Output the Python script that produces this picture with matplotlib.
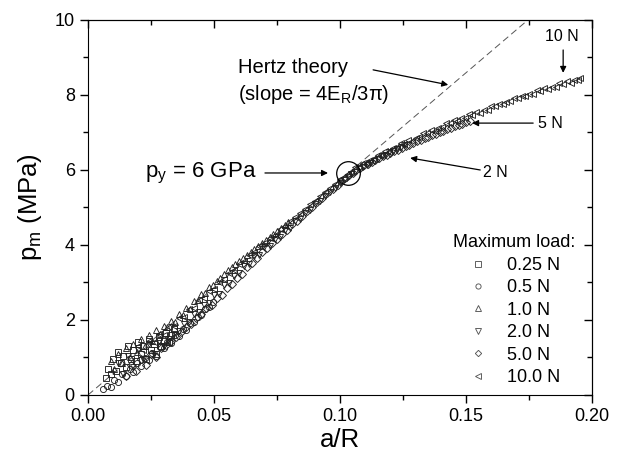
import matplotlib
matplotlib.use('Agg')
import matplotlib.pyplot as plt

plt.rcParams['font.family'] = ['Liberation Sans', 'DejaVu Sans']
plt.rcParams['mathtext.fontset'] = 'custom'
plt.rcParams['mathtext.rm'] = 'Liberation Sans'
plt.rcParams['mathtext.it'] = 'Liberation Sans:italic'

# datos: a/R y p_m (MPa) para cada carga maxima
x_025 = [0.007, 0.008, 0.009, 0.010, 0.011, 0.012, 0.013, 0.014, 0.015, 0.016, 0.017, 0.018, 0.019, 0.020,
         0.021, 0.022, 0.023, 0.024, 0.025, 0.026, 0.027, 0.028, 0.029, 0.030, 0.031, 0.032, 0.033, 0.034]
y_025 = [0.45, 0.70, 0.55, 0.95, 0.65, 1.15, 0.85, 1.05, 0.75, 1.30, 0.95, 1.20, 0.90, 1.40,
         1.10, 1.30, 0.95, 1.50, 1.20, 1.35, 1.10, 1.55, 1.30, 1.45, 1.65, 1.40, 1.60, 1.75]

x_05 = [0.006, 0.0075, 0.009, 0.0105, 0.012, 0.0135, 0.015, 0.0165, 0.018, 0.0195,
        0.021, 0.0225, 0.024, 0.0255, 0.027, 0.0285, 0.030, 0.0315, 0.033, 0.0345,
        0.036, 0.0375, 0.039, 0.0405, 0.042, 0.0435, 0.045, 0.0465, 0.048, 0.0495]
y_05 = [0.15, 0.25, 0.22, 0.40, 0.35, 0.55, 0.50, 0.68, 0.62, 0.85,
        0.78, 0.98, 0.92, 1.12, 1.05, 1.28, 1.25, 1.42, 1.38, 1.60,
        1.58, 1.75, 1.72, 1.92, 1.95, 2.08, 2.12, 2.28, 2.35, 2.48]

x_1 = [0.009, 0.0105, 0.012, 0.0135, 0.015, 0.0165, 0.018, 0.0195, 0.021, 0.0225, 0.024, 0.0255,
       0.027, 0.0285, 0.030, 0.0315, 0.033, 0.0345, 0.036, 0.0375, 0.039, 0.0405, 0.042, 0.0435,
       0.045, 0.0465, 0.048, 0.0495, 0.051, 0.0525, 0.054, 0.0555, 0.057, 0.0585, 0.060, 0.0615,
       0.063, 0.0645, 0.066, 0.0675, 0.069, 0.0705, 0.072, 0.0735, 0.075, 0.0765, 0.078, 0.0795]
y_1 = [0.90, 0.70, 1.10, 0.85, 1.25, 1.00, 1.35, 1.15, 1.50, 1.30, 1.60, 1.45,
       1.72, 1.62, 1.85, 1.80, 1.98, 1.95, 2.15, 2.12, 2.32, 2.30, 2.50, 2.52,
       2.68, 2.72, 2.88, 2.92, 3.05, 3.12, 3.22, 3.32, 3.40, 3.50, 3.58, 3.66,
       3.72, 3.82, 3.88, 3.98, 4.05, 4.14, 4.20, 4.30, 4.36, 4.46, 4.52, 4.62]

x_2 = [0.012, 0.014, 0.016, 0.018, 0.020, 0.022, 0.024, 0.026, 0.028, 0.030, 0.032,
       0.034, 0.036, 0.038, 0.040, 0.042, 0.044, 0.046, 0.048, 0.050, 0.052, 0.054,
       0.056, 0.058, 0.060, 0.062, 0.064, 0.066, 0.068, 0.070, 0.072, 0.074, 0.076,
       0.078, 0.080, 0.082, 0.084, 0.086, 0.088, 0.090, 0.092, 0.094, 0.096, 0.098,
       0.100, 0.1015, 0.103, 0.1045, 0.106, 0.1075, 0.109, 0.1105, 0.112, 0.1135,
       0.115, 0.1165, 0.118, 0.1195, 0.121, 0.1225, 0.124, 0.1255]
y_2 = [0.85, 0.55, 1.05, 0.75, 1.20, 0.95, 1.35, 1.10, 1.45, 1.30, 1.50,
       1.62, 1.70, 1.90, 1.95, 2.15, 2.22, 2.40, 2.45, 2.66, 2.70, 2.92,
       2.98, 3.18, 3.24, 3.45, 3.50, 3.70, 3.74, 3.94, 3.98, 4.16, 4.22,
       4.40, 4.46, 4.64, 4.70, 4.86, 4.94, 5.08, 5.18, 5.30, 5.40, 5.52,
       5.64, 5.72, 5.80, 5.88, 5.94, 6.02, 6.07, 6.14, 6.19, 6.25,
       6.30, 6.36, 6.41, 6.47, 6.51, 6.57, 6.61, 6.66]

x_5 = [0.015, 0.017, 0.019, 0.021, 0.023, 0.025, 0.027, 0.029, 0.031, 0.033, 0.035,
       0.037, 0.039, 0.041, 0.043, 0.045, 0.047, 0.049, 0.051, 0.053, 0.055, 0.057,
       0.059, 0.061, 0.063, 0.065, 0.067, 0.069, 0.071, 0.073, 0.075, 0.077, 0.079,
       0.081, 0.083, 0.085, 0.087, 0.089, 0.091, 0.093, 0.095, 0.097, 0.099,
       0.1005, 0.102, 0.1035, 0.105, 0.1065, 0.108, 0.1095, 0.111, 0.1125, 0.114,
       0.1155, 0.117, 0.1185, 0.120, 0.1215, 0.123, 0.1245, 0.126, 0.1275, 0.129,
       0.1305, 0.132, 0.1335, 0.135, 0.1365, 0.138, 0.1395, 0.141, 0.1425, 0.144,
       0.1455, 0.147, 0.1485, 0.150, 0.1515]
y_5 = [0.50, 0.80, 0.65, 0.95, 0.80, 1.10, 1.02, 1.25, 1.32, 1.45, 1.55,
       1.68, 1.80, 1.90, 2.05, 2.15, 2.32, 2.40, 2.58, 2.66, 2.85, 2.95,
       3.12, 3.22, 3.40, 3.52, 3.66, 3.80, 3.92, 4.05, 4.16, 4.30, 4.40,
       4.55, 4.64, 4.78, 4.90, 5.02, 5.14, 5.26, 5.38, 5.48, 5.60,
       5.70, 5.78, 5.86, 5.93, 6.00, 6.05, 6.12, 6.16, 6.22, 6.27,
       6.31, 6.36, 6.40, 6.45, 6.50, 6.54, 6.58, 6.63, 6.67, 6.72,
       6.76, 6.80, 6.84, 6.88, 6.92, 6.96, 7.00, 7.04, 7.08, 7.12,
       7.16, 7.19, 7.23, 7.27, 7.30]

x_10 = [0.020, 0.022, 0.024, 0.026, 0.028, 0.030, 0.032, 0.034, 0.036, 0.038,
        0.040, 0.042, 0.044, 0.046, 0.048, 0.050, 0.052, 0.054, 0.056, 0.058,
        0.060, 0.062, 0.064, 0.066, 0.068, 0.070, 0.072, 0.074, 0.076, 0.078,
        0.080, 0.082, 0.084, 0.086, 0.088, 0.090, 0.092, 0.094, 0.096, 0.098,
        0.1000, 0.1015, 0.1030, 0.1045, 0.1060, 0.1075, 0.1090, 0.1105, 0.1120, 0.1135,
        0.1150, 0.1165, 0.1180, 0.1195, 0.1210, 0.1225, 0.1240, 0.1255, 0.1270, 0.1285,
        0.1300, 0.1315, 0.1330, 0.1345, 0.1360, 0.1375, 0.1390, 0.1405, 0.1420, 0.1435,
        0.1450, 0.1465, 0.1480, 0.1495, 0.1510, 0.1525, 0.1540, 0.1555, 0.1570, 0.1585,
        0.1600, 0.1615, 0.1630, 0.1645, 0.1660, 0.1675, 0.1690, 0.1705, 0.1720, 0.1735,
        0.1750, 0.1765, 0.1780, 0.1795, 0.1810, 0.1825, 0.1840, 0.1855, 0.1870, 0.1885,
        0.1900, 0.1915, 0.1930, 0.1945, 0.1950]
y_10 = [1.30, 1.20, 1.45, 1.40, 1.62, 1.60, 1.82, 1.85, 2.05, 2.08,
        2.28, 2.32, 2.52, 2.58, 2.78, 2.82, 3.00, 3.08, 3.25, 3.32,
        3.50, 3.56, 3.74, 3.80, 3.96, 4.04, 4.18, 4.26, 4.42, 4.50,
        4.64, 4.74, 4.86, 4.96, 5.08, 5.18, 5.30, 5.40, 5.52, 5.62,
        5.77, 5.79, 5.90, 5.94, 6.07, 6.08, 6.18, 6.18, 6.27, 6.29,
        6.41, 6.41, 6.50, 6.49, 6.58, 6.60, 6.71, 6.70, 6.79, 6.78,
        6.86, 6.88, 6.98, 6.98, 7.06, 7.05, 7.13, 7.14, 7.25, 7.24,
        7.32, 7.30, 7.38, 7.39, 7.49, 7.47, 7.55, 7.53, 7.61, 7.61,
        7.71, 7.70, 7.77, 7.75, 7.82, 7.83, 7.92, 7.91, 7.98, 7.96,
        8.03, 8.03, 8.13, 8.11, 8.18, 8.15, 8.22, 8.22, 8.31, 8.29,
        8.36, 8.33, 8.40, 8.40, 8.44]

series = [(x_025, y_025, 's', '0.25 N'), (x_05, y_05, 'o', '0.5 N'),
          (x_1, y_1, '^', '1.0 N'), (x_2, y_2, 'v', '2.0 N'),
          (x_5, y_5, 'D', '5.0 N'), (x_10, y_10, '<', '10.0 N')]

hertz_slope = 57.3  # pendiente teorica 4E_R/3pi

fig = plt.figure(figsize=(6.22, 4.54), dpi=100)
ax = fig.add_axes([0.1415, 0.13, 0.8105, 0.826])

ax.plot([0, 0.2], [0, hertz_slope * 0.2], color='#555555', lw=0.7, dashes=(7, 4))

for xs, ys, m, lab in series:
    ms = 3.8 if m == 'D' else 4.4
    ax.plot(xs, ys, m, ms=ms, mfc='none', mec='#222222', mew=0.65, label=lab)

ax.set_xlim(0, 0.2)
ax.set_ylim(0, 10)
ax.set_xticks([0, 0.05, 0.1, 0.15, 0.2])
ax.set_xticklabels(['0.00', '0.05', '0.10', '0.15', '0.20'])
ax.set_xticks([0.025, 0.075, 0.125, 0.175], minor=True)
ax.set_yticks([0, 2, 4, 6, 8, 10])
ax.set_yticks([1, 3, 5, 7, 9], minor=True)
ax.tick_params(which='both', labelsize=13, width=1)
ax.tick_params(which='major', length=6)
ax.tick_params(which='minor', length=3.5)
# ticks espejo hacia dentro arriba y a la derecha
top = ax.secondary_xaxis('top')
top.set_xticks([0, 0.05, 0.1, 0.15, 0.2])
top.set_xticks([0.025, 0.075, 0.125, 0.175], minor=True)
top.tick_params(which='both', direction='in', labeltop=False, width=1)
top.tick_params(which='major', length=6)
top.tick_params(which='minor', length=3.5)
right = ax.secondary_yaxis('right')
right.set_yticks([0, 2, 4, 6, 8, 10])
right.set_yticks([1, 3, 5, 7, 9], minor=True)
right.tick_params(which='both', direction='in', labelright=False, width=1)
right.tick_params(which='major', length=6)
right.tick_params(which='minor', length=3.5)

ax.set_xlabel('a/R', fontsize=18.5, labelpad=2)
ax.set_ylabel(r'p$_\mathrm{m}$ (MPa)', fontsize=18.5, labelpad=8)

flecha = dict(arrowstyle='-|>', color='k', lw=0.9, mutation_scale=9, shrinkA=0, shrinkB=0)
ax.text(0.0595, 8.72, 'Hertz theory', fontsize=14.5, va='center')
ax.text(0.0595, 8.0, r'(slope = 4E$_\mathrm{R}$/3π)', fontsize=14.5, va='center')
ax.annotate('', xy=(0.1429, 8.27), xytext=(0.1131, 8.67), arrowprops=flecha)

ax.text(0.0226, 5.92, r'p$_\mathrm{y}$ = 6 GPa', fontsize=16, va='center')
ax.annotate('', xy=(0.0952, 5.92), xytext=(0.0702, 5.92), arrowprops=flecha)
ax.plot([0.1032], [5.92], 'o', ms=17, mfc='none', mec='k', mew=0.9)

ax.text(0.1567, 5.92, '2 N', fontsize=11.5, va='center')
ax.annotate('', xy=(0.1278, 6.32), xytext=(0.1556, 6.0), arrowprops=flecha)
ax.text(0.1786, 7.25, '5 N', fontsize=11.5, va='center')
ax.annotate('', xy=(0.1524, 7.25), xytext=(0.1766, 7.25), arrowprops=flecha)
ax.text(0.1813, 9.55, '10 N', fontsize=11.5, va='center')
ax.annotate('', xy=(0.1885, 8.59), xytext=(0.1885, 9.2), arrowprops=flecha)

leg = ax.legend(title='Maximum load:', loc='lower right', bbox_to_anchor=(0.984, 0.0),
                frameon=False, fontsize=13, title_fontsize=13, markerscale=0.85,
                handletextpad=1.0, labelspacing=0.3, borderpad=0, handlelength=1.2)
for h in leg.legend_handles:
    h.set_markeredgecolor('#555555')

fig.savefig('out.png', dpi=100)
